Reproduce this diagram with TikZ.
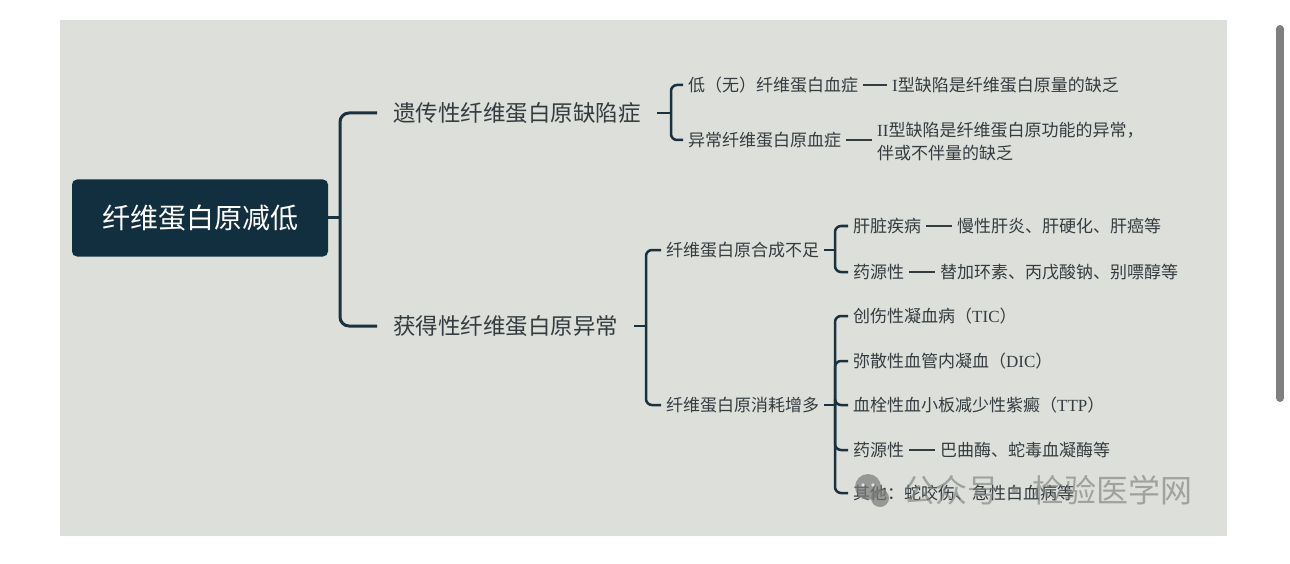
\documentclass[tikz,border=0pt]{standalone}
\usepackage{fontspec}
\setmainfont{Liberation Serif}
\newfontfamily\cjk{Noto Sans CJK SC}
\newfontfamily\latf{Liberation Serif}
\newcommand\lt[1]{{\latf #1}}
\definecolor{panel}{RGB}{220,223,218}
\definecolor{navy}{RGB}{17,47,62}
\definecolor{linec}{RGB}{27,50,62}
\definecolor{txt}{RGB}{52,60,64}
\definecolor{wmc}{RGB}{120,122,120}
\definecolor{scrollc}{RGB}{128,128,128}
\begin{document}
\begin{tikzpicture}[x=1pt,y=-1pt,
  rootbox/.style={fill=navy, rounded corners=5pt, minimum width=256pt, minimum height=77pt,
    text=white, font=\cjk\fontsize{28}{32}\selectfont, inner sep=0pt},
  lvone/.style={anchor=west, inner xsep=16pt, inner ysep=2pt, text=txt,
    font=\cjk\fontsize{22.5}{26}\selectfont},
  lvtwo/.style={anchor=west, inner xsep=5pt, inner ysep=2pt, text=txt,
    font=\cjk\fontsize{17}{23}\selectfont, align=left},
  mainline/.style={draw=linec, line width=3pt, rounded corners=9pt},
  subline/.style={draw=linec, line width=2.5pt, rounded corners=6pt},
  dashline/.style={draw=txt, line width=1.8pt},
]
\useasboundingbox (0,0) rectangle (1290,564);
\fill[white] (0,0) rectangle (1290,564);
\fill[panel] (60,20) rectangle (1227,536);
% scrollbar
\draw[scrollc, line width=8pt, line cap=round] (1280,29) -- (1280,398);

% root
\node[rootbox] (root) at (200,218) {纤维蛋白原减低};
\coordinate (j0) at (340,218);

% level 1
\node[lvone] (l1a) at (377,113) {遗传性纤维蛋白原缺陷症};
\node[lvone] (l1b) at (377,326) {获得性纤维蛋白原异常};
\draw[mainline] (root.east) -- (j0);
\draw[mainline] (j0) |- (l1a.west);
\draw[mainline] (j0) |- (l1b.west);

% branch: hereditary
\coordinate (j1) at (671,113);
\node[lvtwo] (a1) at (683,85) {低（无）纤维蛋白血症};
\node[lvtwo] (a1d) at (887,85) {\lt{I}型缺陷是纤维蛋白原量的缺乏};
\node[lvtwo] (a2) at (683,140) {异常纤维蛋白原血症};
\node[lvtwo] (a2d) at (872,141.5) {\lt{II}型缺陷是纤维蛋白原功能的异常，\\伴或不伴量的缺乏};
\draw[subline] (l1a.east) -- (j1);
\draw[subline] (j1) |- (a1.west);
\draw[subline] (j1) |- (a2.west);
\draw[dashline] (a1.east) -- (a1d.west);
\draw[dashline] (a2.east) -- (a2.east -| a2d.west);

% branch: acquired
\coordinate (j2) at (646,326);
\node[lvtwo] (b1) at (661,250) {纤维蛋白原合成不足};
\node[lvtwo] (b2) at (661,405) {纤维蛋白原消耗增多};
\draw[subline] (l1b.east) -- (j2);
\draw[subline] (j2) |- (b1.west);
\draw[subline] (j2) |- (b2.west);

% synthesis deficiency
\coordinate (j3) at (835,250);
\node[lvtwo] (c1) at (848,226) {肝脏疾病};
\node[lvtwo] (c1d) at (952,226) {慢性肝炎、肝硬化、肝癌等};
\node[lvtwo] (c2) at (848,272) {药源性};
\node[lvtwo] (c2d) at (935,272) {替加环素、丙戊酸钠、别嘌醇等};
\draw[subline] (b1.east) -- (j3);
\draw[subline] (j3) |- (c1.west);
\draw[subline] (j3) |- (c2.west);
\draw[dashline] (c1.east) -- (c1d.west);
\draw[dashline] (c2.east) -- (c2d.west);

% consumption increase
\coordinate (j4) at (835,405);
\node[lvtwo] (e1) at (848,316) {创伤性凝血病（\lt{TIC}）};
\node[lvtwo] (e2) at (848,361) {弥散性血管内凝血（\lt{DIC}）};
\node[lvtwo] (e3) at (848,405) {血栓性血小板减少性紫癜（\lt{TTP}）};
\node[lvtwo] (e4) at (848,450) {药源性};
\node[lvtwo] (e4d) at (935,450) {巴曲酶、蛇毒血凝酶等};
\node[lvtwo] (e5) at (848,493) {其他：蛇咬伤、急性白血病等};
\draw[subline] (b2.east) -- (j4);
\draw[subline] (j4) |- (e1.west);
\draw[subline] (j4) |- (e2.west);
\draw[subline] (j4) |- (e3.west);
\draw[subline] (j4) |- (e4.west);
\draw[subline] (j4) |- (e5.west);
\draw[dashline] (e4.east) -- (e4d.west);

% watermark
\begin{scope}[opacity=0.7]
  \fill[wmc] (868,487) circle (13pt);
  \fill[wmc] (880,498) circle (9pt);
  \fill[white] (863,485) circle (1.8pt);
  \fill[white] (873,485) circle (1.8pt);
\end{scope}
\node[anchor=west, inner sep=0pt, text=wmc, opacity=0.6,
  font=\cjk\fontsize{32}{36}\selectfont] (wm) at (903,490) {公众号\makebox[33pt]{·}检验医学网};
\end{tikzpicture}
\end{document}
